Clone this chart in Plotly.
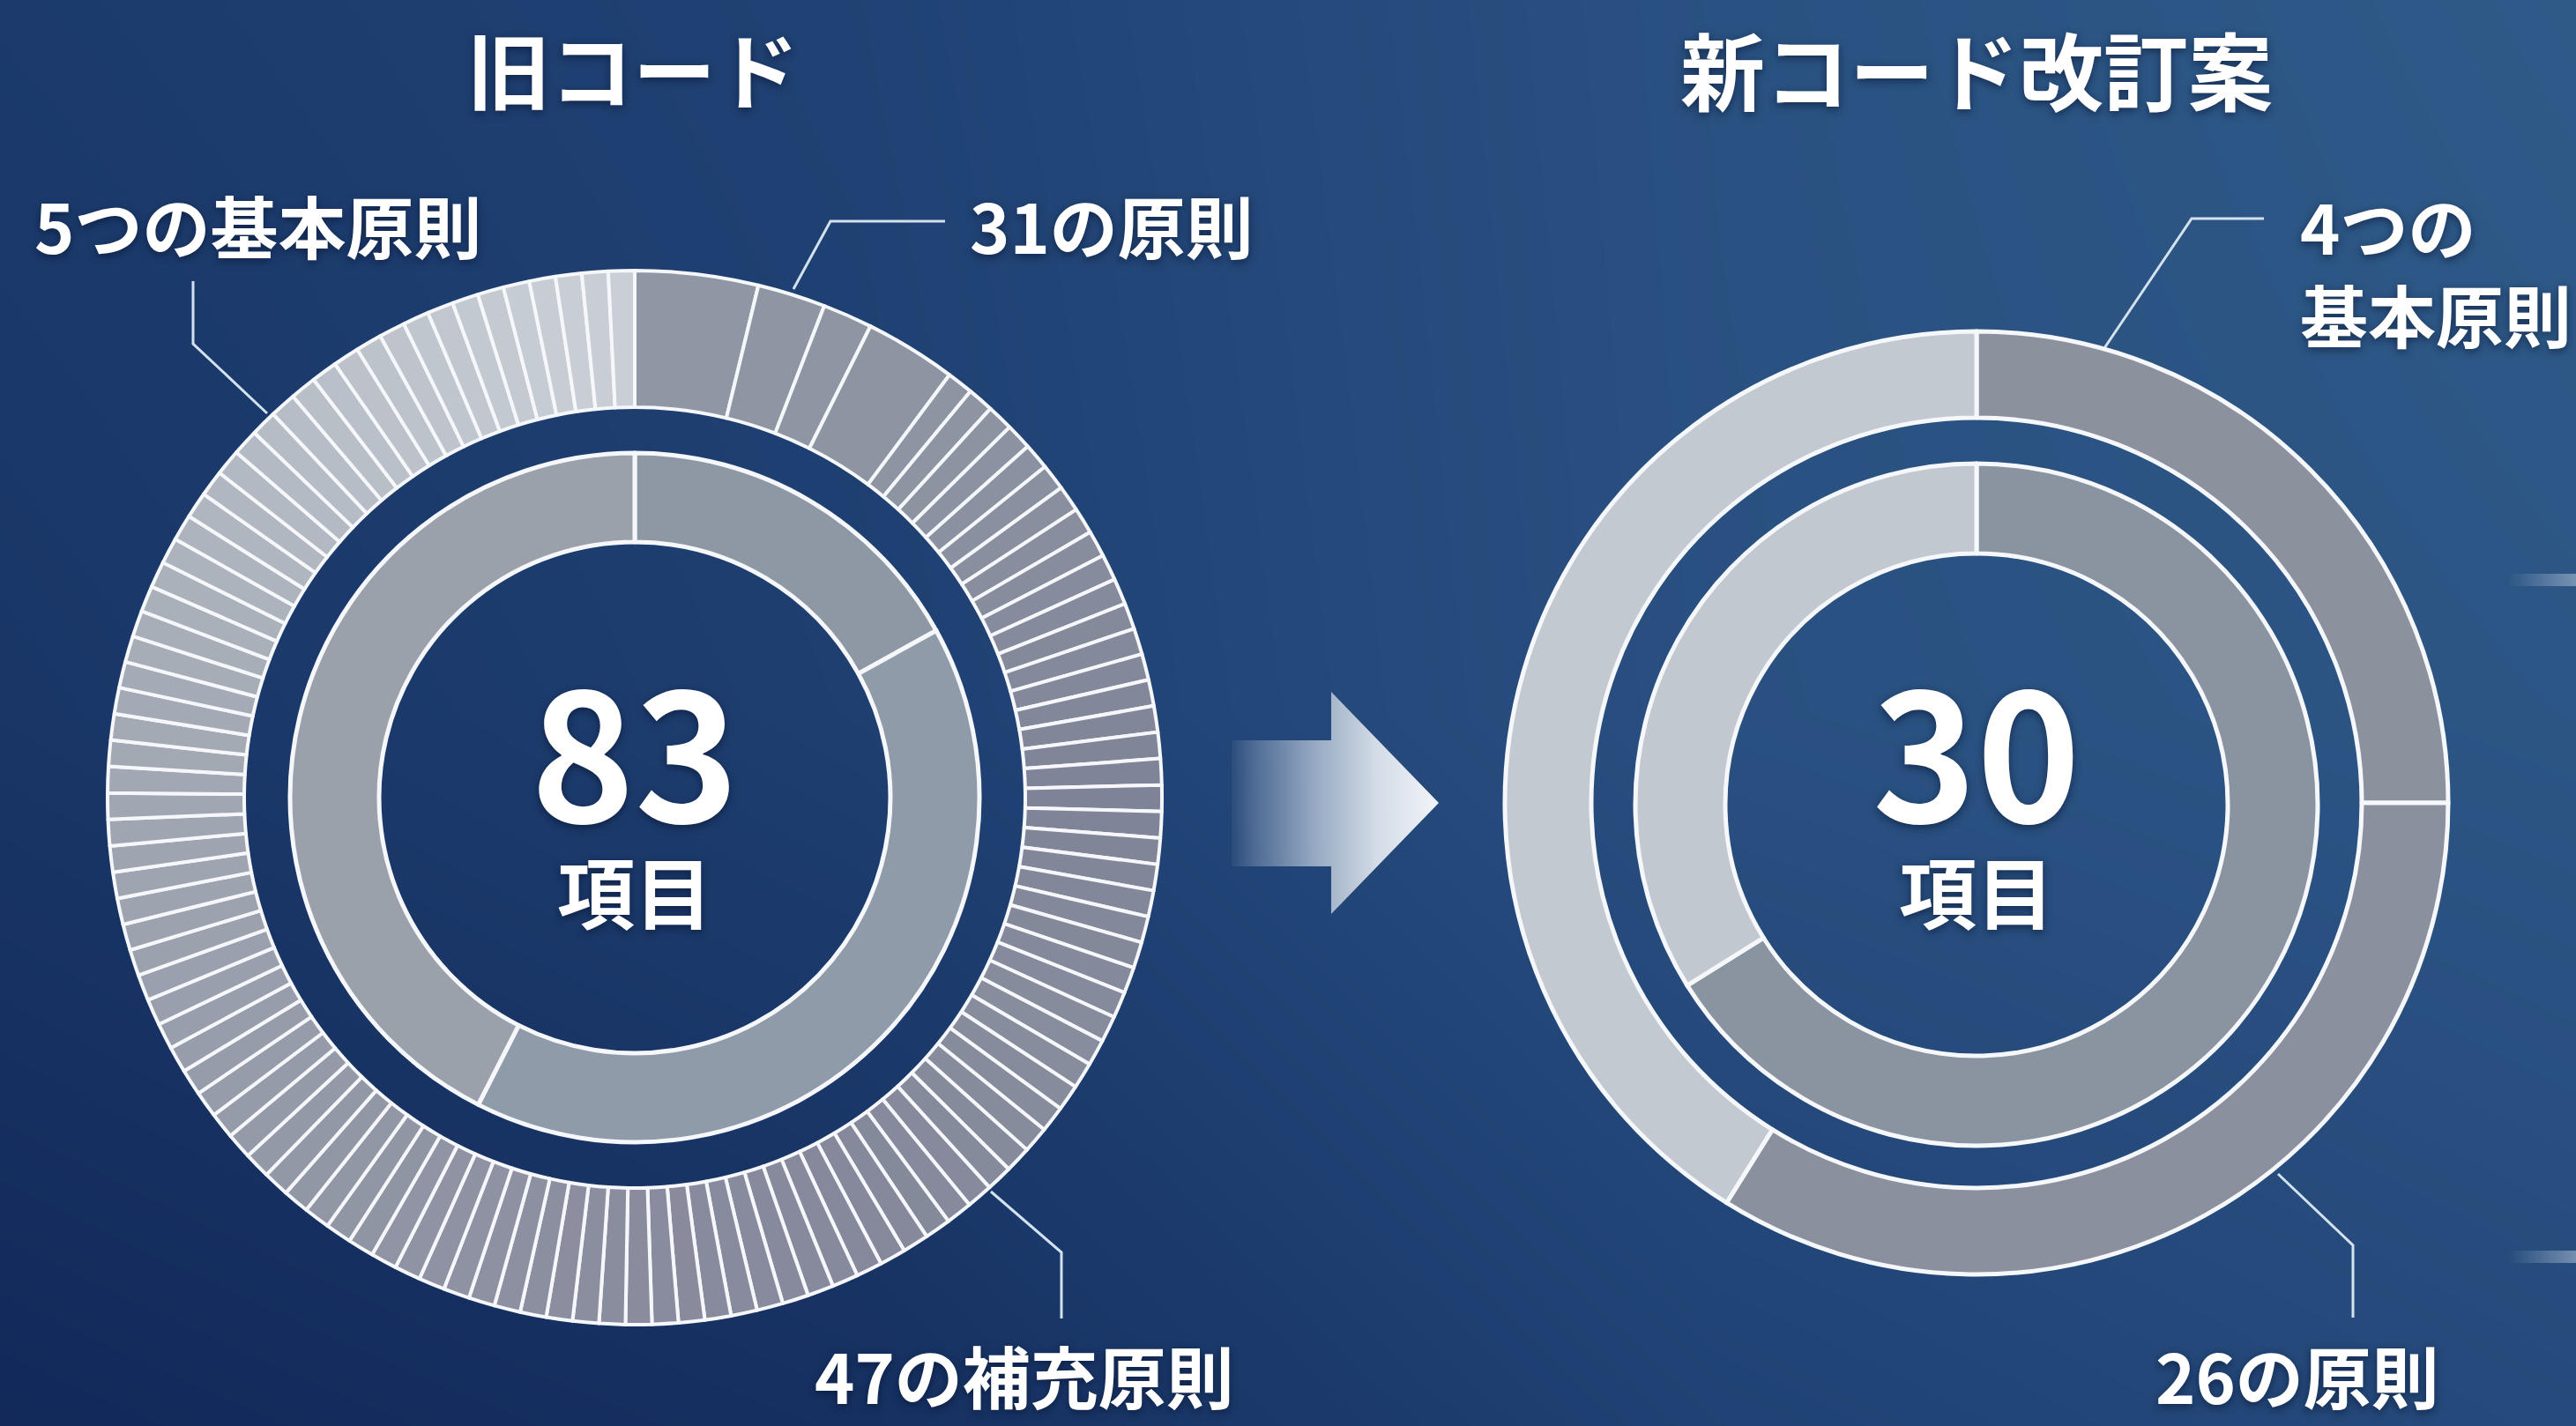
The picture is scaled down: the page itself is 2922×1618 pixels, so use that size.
import plotly.graph_objects as go

W, H = 2922, 1618

# ---------------- data ----------------
OLD_TITLE = "旧コード"
NEW_TITLE = "新コード改訂案"
OLD_TOTAL = "83"
NEW_TOTAL = "30"
UNIT = "項目"

OLD_LABEL_BASIC = "5つの基本原則"
OLD_LABEL_PRINC = "31の原則"
OLD_LABEL_SUPP = "47の補充原則"
NEW_LABEL_BASIC = ["4つの", "基本原則"]
NEW_LABEL_PRINC = "26の原則"

# old code, outer ring: a few wide items followed by many thin items (relative arc sizes)
old_outer_wide = [4.7, 2.6, 1.9, 3.5]
old_outer_thin = [
    1, 1, 1, 1, 1, 1, 1, 1, 1, 1, 1, 1, 1, 1, 1, 1,
    1, 1, 1, 1, 1, 1, 1, 1, 1, 1, 1, 1, 1, 1, 1, 1,
    1, 1, 1, 1, 1, 1, 1, 1, 1, 1, 1, 1, 1, 1, 1, 1,
    1, 1, 1, 1, 1, 1, 1, 1, 1, 1, 1, 1, 1, 1, 1, 1,
    1, 1, 1, 1, 1, 1, 1, 1, 1, 1, 1, 1, 1, 1, 1, 1,
    1, 1, 1, 1, 1, 1, 1, 1, 1, 1, 1, 1, 1, 1, 1, 1,
    1, 1, 1, 1, 1, 1, 1, 1, 1, 1, 1, 1, 1, 1, 1, 1,
]
# old code, inner ring (arc sizes in degrees)
old_inner = [61, 146, 153]
# new code, outer and inner rings (arc sizes in degrees)
new_outer = [90, 122, 148]
new_inner = [238, 122]

# ---------------- style ----------------
FONT = "Noto Sans CJK JP"
LINE_WHITE = "#f5f7fa"
LEADER = "#d4e2f0"

old_inner_colors = ["#8e98a5", "#8f9ba8", "#9ba1ab"]
new_outer_colors = ["#8b919d", "#8b909e", "#c3c9d1"]
new_inner_colors = ["#8a94a1", "#c2c8d0"]

outer_stops = [(0, "#9098a4"), (40, "#8d94a2"), (90, "#7f8397"), (120, "#878d9d"),
               (150, "#85899b"), (180, "#8a8c9e"), (215, "#9196a5"), (250, "#9aa0ad"),
               (285, "#a6acb6"), (320, "#b8bec7"), (350, "#c8cdd4"), (360, "#cacfd6")]


def hex2rgb(h):
    h = h.lstrip("#")
    return tuple(int(h[i:i + 2], 16) for i in (0, 2, 4))


def color_at(angle):
    for (a0, c0), (a1, c1) in zip(outer_stops[:-1], outer_stops[1:]):
        if a0 <= angle <= a1:
            t = (angle - a0) / (a1 - a0) if a1 > a0 else 0
            r0, r1 = hex2rgb(c0), hex2rgb(c1)
            return "rgb(%d,%d,%d)" % tuple(round(r0[i] + (r1[i] - r0[i]) * t) for i in range(3))
    return outer_stops[-1][1]


old_outer = old_outer_wide + old_outer_thin
tot = sum(old_outer)
acc = 0
old_outer_colors = []
for v in old_outer:
    mid = (acc + v / 2) / tot * 360
    old_outer_colors.append(color_at(mid))
    acc += v


def domain(cx, cy, r):
    return dict(x=[(cx - r) / W, (cx + r) / W], y=[1 - (cy + r) / H, 1 - (cy - r) / H])


fig = go.Figure()

# background (brightness at a coarse grid, smoothed)
bg_x = [-300, 974, 1948, 3200]
bg_y = [-300, 809, 1900]
bg_z = [[0.36, 0.48, 0.72, 0.94],
        [0.24, 0.42, 0.70, 0.82],
        [0.00, 0.12, 0.38, 0.58]]
fig.add_trace(go.Heatmap(x=bg_x, y=bg_y, z=bg_z, zsmooth="best", showscale=False,
                         colorscale=[[0, "#0e2353"], [0.5, "#214476"], [1, "#34628f"]],
                         zmin=0, zmax=1, hoverinfo="skip"))

# arrow between the two charts
arrow_x = [1397, 1510, 1510, 1632, 1510, 1510, 1397, 1397]
arrow_y = [840, 840, 785, 911, 1037, 983, 983, 840]
fig.add_trace(go.Scatter(x=arrow_x, y=arrow_y, mode="lines", fill="toself",
                         line=dict(width=0, color="rgba(0,0,0,0)"),
                         fillgradient=dict(type="horizontal", colorscale=[
                             [0, "rgba(200,212,228,0.05)"], [0.12, "rgba(190,204,222,0.3)"],
                             [0.4, "rgba(200,212,226,0.7)"], [0.7, "rgba(225,231,239,0.93)"],
                             [1, "rgba(242,245,249,1)"]]),
                         hoverinfo="skip", showlegend=False))

# right-edge light streaks
for sy in (658, 1426):
    fig.add_trace(go.Scatter(x=[2845, 2922, 2922, 2845, 2845], y=[sy - 7, sy - 7, sy + 7, sy + 7, sy - 7],
                             mode="lines", fill="toself", line=dict(width=0, color="rgba(0,0,0,0)"),
                             fillgradient=dict(type="horizontal", colorscale=[
                                 [0, "rgba(210,222,236,0)"], [1, "rgba(210,222,236,0.45)"]]),
                             hoverinfo="skip", showlegend=False))

# leader lines
leaders = [
    ([219, 219, 303], [319, 390, 469]),
    ([1072, 942, 900], [251, 251, 328]),
    ([1124, 1204, 1204], [1352, 1421, 1496]),
    ([2568, 2486, 2387], [248, 248, 395]),
    ([2584, 2669, 2669], [1332, 1413, 1495]),
]
for lx, ly in leaders:
    fig.add_trace(go.Scatter(x=lx, y=ly, mode="lines", line=dict(color=LEADER, width=3),
                             hoverinfo="skip", showlegend=False))

# donuts
pie_common = dict(sort=False, direction="clockwise", rotation=0, textinfo="none",
                  hoverinfo="skip", showlegend=False)
fig.add_trace(go.Pie(values=old_outer, marker=dict(colors=old_outer_colors, line=dict(color=LINE_WHITE, width=4)),
                     hole=443 / 598, domain=domain(720, 905, 598), **pie_common))
fig.add_trace(go.Pie(values=old_inner, marker=dict(colors=old_inner_colors, line=dict(color=LINE_WHITE, width=5)),
                     hole=290 / 391, domain=domain(720, 905, 391), **pie_common))
fig.add_trace(go.Pie(values=new_outer, marker=dict(colors=new_outer_colors, line=dict(color=LINE_WHITE, width=5)),
                     hole=437 / 535, domain=domain(2242, 911, 535), **pie_common))
fig.add_trace(go.Pie(values=new_inner, marker=dict(colors=new_inner_colors, line=dict(color=LINE_WHITE, width=5)),
                     hole=285 / 387, domain=domain(2242, 913, 387), **pie_common))

SH = "0px 3px 10px rgba(5,15,40,0.55)"


def txt(x, y, s, size, anchor="center", color="#ffffff", yanchor="middle"):
    fig.add_annotation(x=x, y=y, xref="x", yref="y", text=s, showarrow=False,
                       xanchor=anchor, yanchor=yanchor, align="left" if anchor == "left" else "center",
                       font=dict(family=FONT, size=size, color=color, weight=700, shadow=SH))


txt(718, 76, OLD_TITLE, 94)
txt(2242, 76, NEW_TITLE, 96)
txt(37, 254, OLD_LABEL_BASIC, 77, "left")
txt(1098, 254, OLD_LABEL_PRINC, 77, "left")
txt(922, 1559, OLD_LABEL_SUPP, 77, "left")
txt(2607, 305, "<br>".join(NEW_LABEL_BASIC), 77, "left")
txt(2443, 1559, NEW_LABEL_PRINC, 77, "left")

# centre totals: big number and unit in a single text block
for cx, total in ((720, OLD_TOTAL), (2242, NEW_TOTAL)):
    txt(cx, 886, '<span style="font-size:200px">%s</span><br>%s' % (total, UNIT), 88)

fig.update_layout(
    width=W, height=H, margin=dict(l=0, r=0, t=0, b=0),
    paper_bgcolor="#1b3566", plot_bgcolor="#1b3566",
    xaxis=dict(range=[0, W], visible=False, fixedrange=True, domain=[0, 1]),
    yaxis=dict(range=[H, 0], visible=False, fixedrange=True, domain=[0, 1]),
    showlegend=False,
)

fig.write_html("out.html", config=dict(displayModeBar=False))
